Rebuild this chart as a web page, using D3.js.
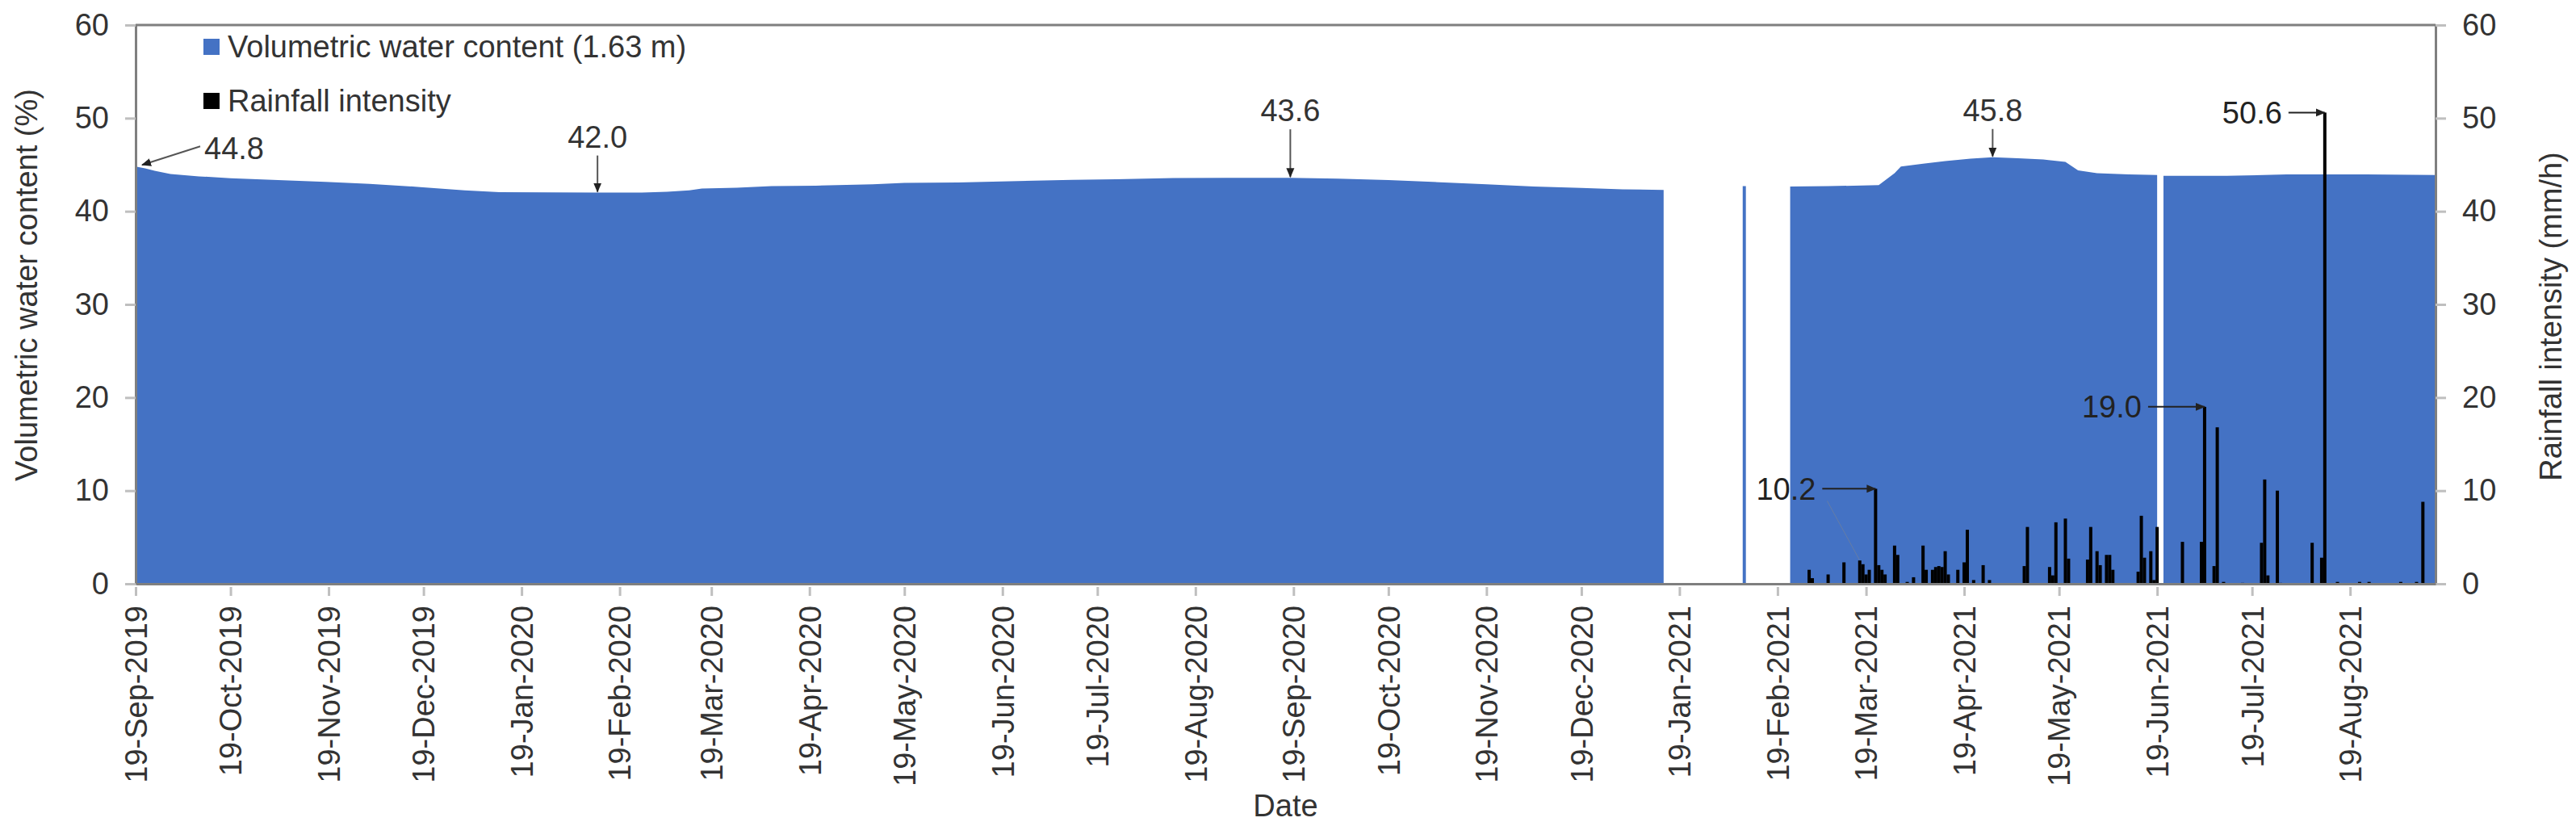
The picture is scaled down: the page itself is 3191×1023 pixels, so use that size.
<!DOCTYPE html>
<html>
<head>
<meta charset="utf-8">
<script src="https://cdn.jsdelivr.net/npm/d3@7"></script>
<style>
  body { margin: 0; background: #fff; }
  text { font-family: "Liberation Sans", Arial, sans-serif; }
</style>
</head>
<body>
<div id="chart"></div>
<script>
// Volumetric water content (%) at 1.63 m, null = no reading
var vwcDates = ['2019-09-19','2019-09-22','2019-09-25','2019-09-30','2019-10-09','2019-10-19','2019-11-03',
  '2019-11-18','2019-12-02','2019-12-18','2020-01-01','2020-01-12','2020-01-27','2020-02-12','2020-02-26',
  '2020-03-05','2020-03-12','2020-03-16','2020-03-27','2020-04-07','2020-04-21','2020-05-09','2020-05-19',
  '2020-06-05','2020-06-24','2020-07-11','2020-07-25','2020-08-12','2020-08-29','2020-09-18','2020-10-03',
  '2020-10-19','2020-11-02','2020-11-19','2020-12-04','2020-12-19','2021-01-01','2021-01-14','2021-01-15',
  '2021-02-08','2021-02-09','2021-02-10','2021-02-23','2021-03-07','2021-03-23','2021-03-28','2021-03-30',
  '2021-04-06','2021-04-13','2021-04-21','2021-04-28','2021-05-06','2021-05-14','2021-05-21','2021-05-25',
  '2021-05-31','2021-06-10','2021-06-19','2021-06-20','2021-06-21','2021-07-11','2021-07-30','2021-08-24',
  '2021-09-15'];
var vwcValues = [44.8, 44.6, 44.35, 44.0, 43.75, 43.55, 43.35,
  43.15, 42.95, 42.6, 42.25, 42.05, 42.02, 42.0, 42.0,
  42.1, 42.25, 42.45, 42.52, 42.7, 42.75, 42.9, 43.05,
  43.1, 43.25, 43.38, 43.45, 43.58, 43.6, 43.6, 43.5,
  43.35, 43.15, 42.9, 42.65, 42.5, 42.35, 42.3, null,
  42.7, 42.7, null, 42.65, 42.7, 42.8, 44.1, 44.8,
  45.1, 45.4, 45.65, 45.8, 45.7, 45.56, 45.3, 44.4,
  44.1, 43.95, 43.9, null, 43.8, 43.8, 43.95, 43.97,
  43.9];

// Rainfall intensity (mm/h)
var rainDates = ['2021-03-01','2021-03-02','2021-03-07','2021-03-12','2021-03-17','2021-03-18','2021-03-19',
  '2021-03-20','2021-03-22','2021-03-23','2021-03-24','2021-03-25','2021-03-28','2021-03-29','2021-04-01',
  '2021-04-03','2021-04-06','2021-04-07','2021-04-09','2021-04-10','2021-04-11','2021-04-12','2021-04-13',
  '2021-04-14','2021-04-17','2021-04-19','2021-04-20','2021-04-22','2021-04-25','2021-04-27','2021-05-08',
  '2021-05-09','2021-05-16','2021-05-17','2021-05-18','2021-05-21','2021-05-22','2021-05-28','2021-05-29',
  '2021-05-31','2021-06-01','2021-06-03','2021-06-04','2021-06-05','2021-06-13','2021-06-14','2021-06-15',
  '2021-06-17','2021-06-18','2021-06-19','2021-06-27','2021-07-03','2021-07-04','2021-07-07','2021-07-08',
  '2021-07-10','2021-07-16','2021-07-22','2021-07-23','2021-07-24','2021-07-27','2021-07-28','2021-08-07',
  '2021-08-10','2021-08-11','2021-08-15','2021-08-22','2021-08-25','2021-09-04','2021-09-09','2021-09-11'];
var rainValues = [1.5, 0.6, 1.0, 2.3, 2.5, 2.1, 1.0,
  1.5, 10.2, 2.0, 1.5, 1.0, 4.1, 3.1, 0.2,
  0.7, 4.1, 1.5, 1.5, 1.8, 1.9, 1.8, 3.5,
  1.0, 1.5, 2.3, 5.8, 0.4, 2.0, 0.4, 1.9,
  6.1, 1.8, 0.9, 6.6, 7.0, 2.7, 2.6, 6.1,
  3.5, 2.0, 3.1, 3.1, 1.5, 1.3, 7.3, 2.8,
  3.5, 0.4, 6.1, 4.5, 4.5, 19.0, 1.9, 16.8,
  0.2, 0.1, 4.4, 11.2, 0.9, 10.0, 0.1, 4.4,
  2.8, 50.6, 0.2, 0.2, 0.2, 0.2, 0.2, 8.8];

var tickDates = ['2019-09-19','2019-10-19','2019-11-19','2019-12-19','2020-01-19','2020-02-19','2020-03-19',
  '2020-04-19','2020-05-19','2020-06-19','2020-07-19','2020-08-19','2020-09-19','2020-10-19','2020-11-19',
  '2020-12-19','2021-01-19','2021-02-19','2021-03-19','2021-04-19','2021-05-19','2021-06-19','2021-07-19',
  '2021-08-19'];
var yTicks = [0, 10, 20, 30, 40, 50, 60];

// labelled points
var vwcNoteDates = ['2019-09-19','2020-02-12','2020-09-18','2021-04-28'];
var vwcNoteValues = [44.8, 42.0, 43.6, 45.8];
var rainNoteDates = ['2021-03-22','2021-07-04','2021-08-11'];
var rainNoteValues = [10.2, 19.0, 50.6];

var svgWidth = 3191;
var svgHeight = 1023;
var margin = {top: 31, right: 174, bottom: 300, left: 168};
var width = svgWidth - margin.left - margin.right;
var height = svgHeight - margin.top - margin.bottom;

var blue = '#4472C4';
var axisGrey = '#7f7f7f';
var tickGrey = '#bfbfbf';
var textColor = '#333';
var fontSize = '38px';

var parseDate = d3.utcParse('%Y-%m-%d');
var formatTick = d3.utcFormat('%d-%b-%Y');

var vwcData = vwcDates.map(function(d, i) { return {date: parseDate(d), value: vwcValues[i]}; });
var rainData = rainDates.map(function(d, i) { return {date: parseDate(d), value: rainValues[i]}; });

var svg = d3.select('#chart')
  .append('svg')
  .attr('width', svgWidth)
  .attr('height', svgHeight);

var defs = svg.append('defs');
defs.append('marker')
  .attr('id', 'arrow')
  .attr('viewBox', '0 0 12 12')
  .attr('refX', 11)
  .attr('refY', 6)
  .attr('markerWidth', 12)
  .attr('markerHeight', 12)
  .attr('markerUnits', 'userSpaceOnUse')
  .attr('orient', 'auto')
  .append('path')
  .attr('d', 'M0,1L12,6L0,11Z')
  .attr('fill', '#222');

var chartGroup = svg.append('g')
  .attr('transform', `translate(${margin.left},${margin.top})`);

var xScale = d3.scaleUtc()
  .domain([parseDate('2019-09-19'), parseDate('2021-09-15')])
  .range([0, width]);

var yScale = d3.scaleLinear().domain([0, 60]).range([height, 0]);
var yRight = d3.scaleLinear().domain([0, 60]).range([height, 0]);

// water content area
var area = d3.area()
  .defined(d => d.value !== null)
  .x(d => xScale(d.date))
  .y0(height)
  .y1(d => yScale(d.value));

chartGroup.append('path')
  .datum(vwcData)
  .attr('d', area)
  .attr('fill', blue);

// rainfall bars on secondary axis
var barW = 4;
chartGroup.selectAll('.rain')
  .data(rainData)
  .enter()
  .append('rect')
  .attr('class', 'rain')
  .attr('x', d => xScale(d.date) - barW / 2)
  .attr('y', d => yRight(d.value))
  .attr('width', barW)
  .attr('height', d => height - yRight(d.value))
  .attr('fill', '#000');

function styleAxis(g) {
  g.attr('font-family', '"Liberation Sans", Arial, sans-serif').attr('font-size', fontSize);
  g.select('.domain').attr('stroke', axisGrey).attr('stroke-width', 3);
  g.selectAll('.tick line').attr('stroke', tickGrey).attr('stroke-width', 3);
  g.selectAll('.tick text').attr('fill', textColor);
}

// axes
var leftAxis = d3.axisLeft(yScale).tickValues(yTicks).tickSize(13).tickSizeOuter(0).tickPadding(20);
var rightAxis = d3.axisRight(yRight).tickValues(yTicks).tickSize(13).tickSizeOuter(0).tickPadding(20);
var bottomAxis = d3.axisBottom(xScale)
  .tickValues(tickDates.map(parseDate))
  .tickSize(13)
  .tickSizeOuter(0)
  .tickFormat(formatTick);

chartGroup.append('g').call(leftAxis).call(styleAxis);
chartGroup.append('g').attr('transform', `translate(${width},0)`).call(rightAxis).call(styleAxis);

var xAxis = chartGroup.append('g')
  .attr('transform', `translate(0,${height})`)
  .call(bottomAxis)
  .call(styleAxis);

xAxis.selectAll('.tick line').attr('y1', 4).attr('y2', 15);
xAxis.selectAll('.tick text')
  .attr('transform', 'rotate(-90)')
  .attr('text-anchor', 'end')
  .attr('x', -27)
  .attr('y', 0)
  .attr('dy', '0.35em');

// top border of plot area
chartGroup.append('line')
  .attr('x1', 0).attr('x2', width)
  .attr('y1', 0).attr('y2', 0)
  .attr('stroke', axisGrey)
  .attr('stroke-width', 3);

// axis titles
svg.append('text')
  .attr('transform', 'translate(33,353) rotate(-90)')
  .attr('text-anchor', 'middle')
  .attr('dy', '0.35em')
  .attr('font-size', fontSize)
  .attr('fill', textColor)
  .text('Volumetric water content (%)');

svg.append('text')
  .attr('transform', 'translate(3160,392) rotate(-90)')
  .attr('text-anchor', 'middle')
  .attr('dy', '0.35em')
  .attr('font-size', fontSize)
  .attr('fill', textColor)
  .text('Rainfall intensity (mm/h)');

svg.append('text')
  .attr('x', margin.left + width / 2)
  .attr('y', 1011)
  .attr('text-anchor', 'middle')
  .attr('font-size', fontSize)
  .attr('fill', textColor)
  .text('Date');

// legend
var legendItems = [
  {label: 'Volumetric water content (1.63 m)', color: blue},
  {label: 'Rainfall intensity', color: '#000'}
];
var legend = chartGroup.selectAll('.legend')
  .data(legendItems)
  .enter()
  .append('g')
  .attr('class', 'legend')
  .attr('transform', (d, i) => `translate(84,${27 + i * 67})`);

legend.append('rect')
  .attr('x', 0).attr('y', -10)
  .attr('width', 20).attr('height', 20)
  .attr('fill', d => d.color);

legend.append('text')
  .attr('x', 30)
  .attr('dy', '0.35em')
  .attr('font-size', fontSize)
  .attr('fill', textColor)
  .text(d => d.label);

// annotations on the water content curve
var noteGroup = chartGroup.append('g');
var vwcLift = [0, 56, 70, 45];
vwcNoteDates.forEach(function(d, i) {
  var px = xScale(parseDate(d));
  var py = yScale(vwcNoteValues[i]);
  var label = vwcNoteValues[i].toFixed(1);
  if (i === 0) {
    noteGroup.append('line')
      .attr('x1', px + 80).attr('y1', py - 25)
      .attr('x2', px + 8).attr('y2', py - 2)
      .attr('stroke', '#555').attr('stroke-width', 2)
      .attr('marker-end', 'url(#arrow)');
    noteGroup.append('text')
      .attr('x', px + 85).attr('y', py - 9)
      .attr('font-size', fontSize).attr('fill', textColor)
      .text(label);
  } else {
    noteGroup.append('line')
      .attr('x1', px).attr('y1', py - vwcLift[i] + 10)
      .attr('x2', px).attr('y2', py - 1)
      .attr('stroke', '#555').attr('stroke-width', 2)
      .attr('marker-end', 'url(#arrow)');
    noteGroup.append('text')
      .attr('x', px).attr('y', py - vwcLift[i])
      .attr('text-anchor', 'middle')
      .attr('font-size', fontSize).attr('fill', textColor)
      .text(label);
  }
});

// annotations on the rainfall bars
var rainGap = [74, 78, 53];
rainNoteDates.forEach(function(d, i) {
  var px = xScale(parseDate(d));
  var py = yRight(rainNoteValues[i]);
  noteGroup.append('line')
    .attr('x1', px - rainGap[i] + 8).attr('y1', py)
    .attr('x2', px).attr('y2', py)
    .attr('stroke', '#222').attr('stroke-width', 2)
    .attr('marker-end', 'url(#arrow)');
  noteGroup.append('text')
    .attr('x', px - rainGap[i]).attr('y', py)
    .attr('dy', '0.35em')
    .attr('text-anchor', 'end')
    .attr('font-size', fontSize).attr('fill', '#222')
    .text(rainNoteValues[i].toFixed(1));
  if (i === 0) {
    noteGroup.append('line')
      .attr('x1', px - 60).attr('y1', py + 15)
      .attr('x2', px - 20).attr('y2', py + 88)
      .attr('stroke', '#888').attr('stroke-width', 1)
      .attr('opacity', 0.5);
  }
});
</script>
</body>
</html>
